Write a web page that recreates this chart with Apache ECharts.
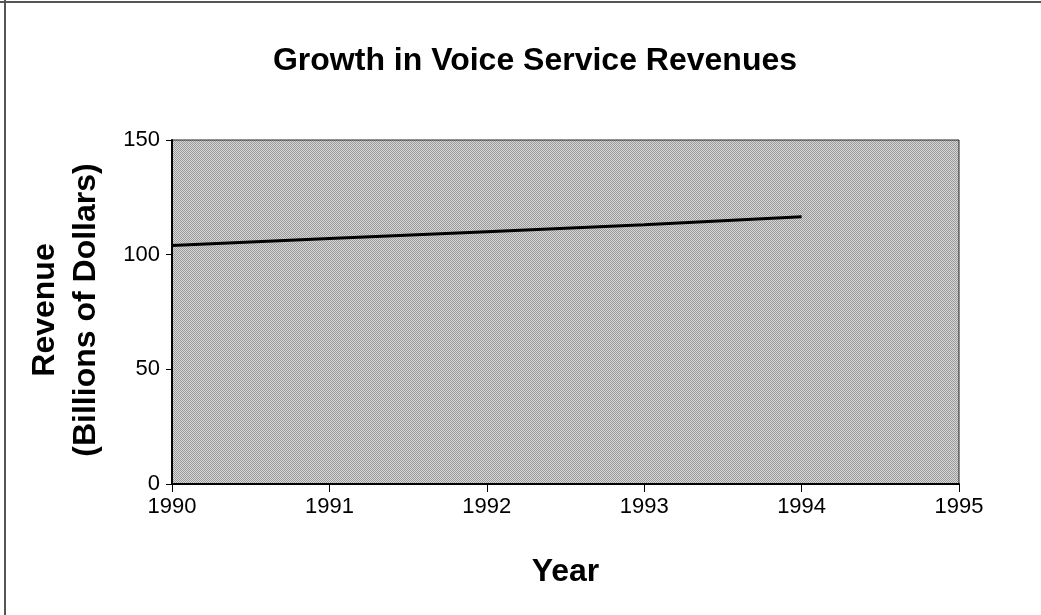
<!DOCTYPE html>
<html>
<head>
<meta charset="utf-8">
<script src="https://cdn.jsdelivr.net/npm/echarts@6/dist/echarts.min.js"></script>
<style>
html,body{margin:0;padding:0;background:#fff;}
#chart{width:1041px;height:615px;}
</style>
</head>
<body>
<div id="chart"></div>
<script>
const years = [1990, 1991, 1992, 1993, 1994];
const revenue = [104, 107, 110, 113, 116.5];
const yTicks = [0, 50, 100, 150];

const chart = echarts.init(document.getElementById('chart'), null, {renderer: 'canvas'});
const font = '"Liberation Sans", Arial, sans-serif';

// stipple pattern for the plot background
const pc = document.createElement('canvas');
pc.width = 2; pc.height = 2;
const pctx = pc.getContext('2d');
pctx.fillStyle = '#d6d6d6'; pctx.fillRect(0, 0, 2, 2);
pctx.fillStyle = '#9a9a9a'; pctx.fillRect(0, 0, 1, 1); pctx.fillRect(1, 1, 1, 1);

chart.setOption({
  backgroundColor: '#fff',
  animation: false,
  title: {
    text: 'Growth in Voice Service Revenues',
    left: 530, top: 40, textAlign: 'center',
    textStyle: {fontFamily: font, fontWeight: 'bold', fontSize: 32, color: '#000'}
  },
  grid: {
    left: 172, right: 82, top: 140, bottom: 131,
    show: true, backgroundColor: {image: pc, repeat: 'repeat'}, borderColor: '#222', borderWidth: 1
  },
  xAxis: {
    type: 'value', min: 1990, max: 1995, interval: 1,
    name: 'Year', nameLocation: 'middle', nameGap: 72,
    nameTextStyle: {fontFamily: font, fontWeight: 'bold', fontSize: 32, color: '#000'},
    axisLine: {lineStyle: {color: '#000', width: 2}},
    axisTick: {show: true, length: 8, lineStyle: {color: '#000'}},
    axisLabel: {fontFamily: font, fontSize: 22, color: '#000', margin: 12, formatter: v => String(v)},
    splitLine: {show: false}
  },
  yAxis: {
    type: 'value', min: 0, max: 150, interval: 50,
    axisLine: {show: true, lineStyle: {color: '#000', width: 2}},
    axisTick: {show: true, length: 6, lineStyle: {color: '#000'}},
    axisLabel: {fontFamily: font, fontSize: 22, color: '#000', margin: 12,
      formatter: v => yTicks.includes(v) ? String(v) : ''},
    splitLine: {show: false}
  },
  graphic: [
    {type: 'line', shape: {x1: 0, y1: 2, x2: 1041, y2: 2}, style: {stroke: '#555', lineWidth: 2}},
    {type: 'line', shape: {x1: 5, y1: 0, x2: 5, y2: 615}, style: {stroke: '#555', lineWidth: 2}},
    {type: 'text', x: 45, y: 310, rotation: Math.PI / 2,
      style: {text: 'Revenue', font: 'bold 32px ' + font, fill: '#000', align: 'center', verticalAlign: 'middle'}},
    {type: 'text', x: 86, y: 310, rotation: Math.PI / 2,
      style: {text: '(Billions of Dollars)', font: 'bold 32px ' + font, fill: '#000', align: 'center', verticalAlign: 'middle'}}
  ],
  series: [{
    type: 'line',
    data: years.map((y, i) => [y, revenue[i]]),
    showSymbol: false,
    lineStyle: {color: '#000', width: 3}
  }]
});
</script>
</body>
</html>
